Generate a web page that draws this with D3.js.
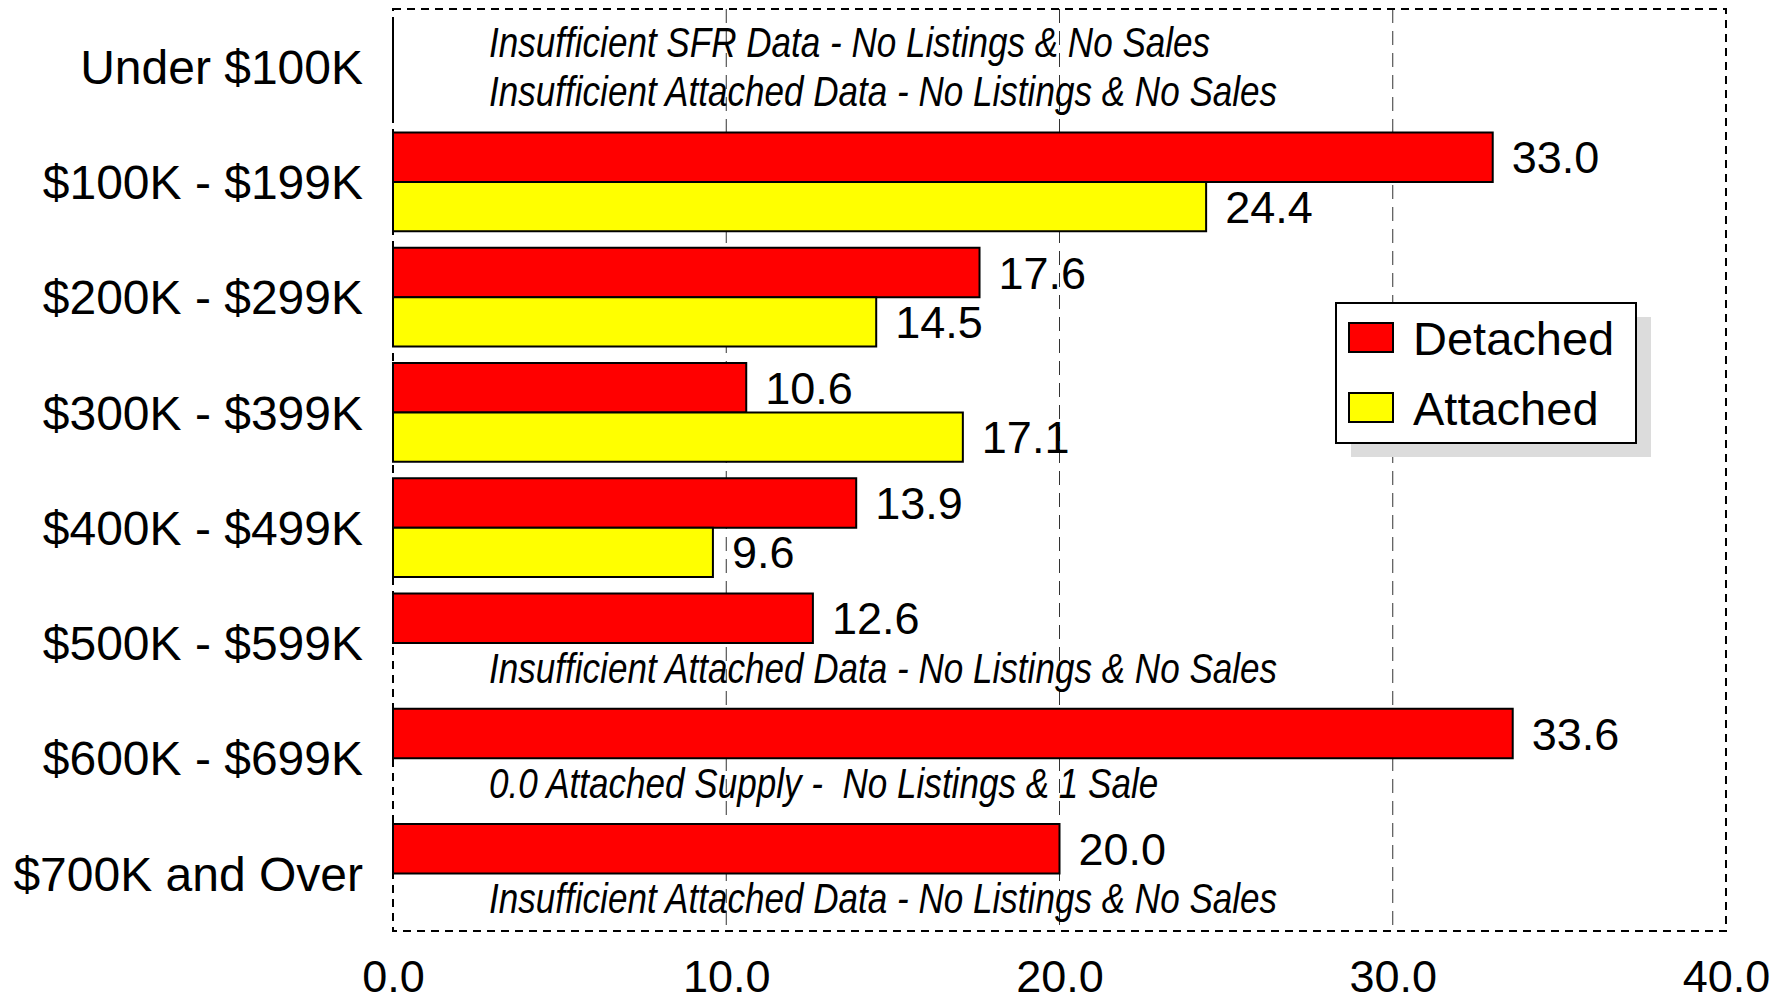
<!DOCTYPE html>
<html>
<head>
<meta charset="utf-8">
<script src="https://cdn.jsdelivr.net/npm/d3@7"></script>
<style>
	body { margin: 0; background: #fff; }
	svg { display: block; }
	.cat { font-family: "Liberation Sans", Arial, sans-serif; font-size: 48px; }
	.val { font-family: "Liberation Sans", Arial, sans-serif; font-size: 45px; }
	.tick-label { font-family: "Liberation Sans", Arial, sans-serif; font-size: 45px; }
	.note { font-family: "Liberation Sans Narrow", "Arial Narrow", "Liberation Sans", sans-serif; font-style: italic; font-size: 42px; }
	.legend-text { font-family: "Liberation Sans", Arial, sans-serif; font-size: 47px; }
</style>
</head>
<body>
<svg id="chart" width="1791" height="1002"></svg>
<script>
// price ranges, top to bottom
const categories = ["Under $100K", "$100K - $199K", "$200K - $299K", "$300K - $399K",
	"$400K - $499K", "$500K - $599K", "$600K - $699K", "$700K and Over"];
const seriesNames = ["Detached", "Attached"];
const seriesColors = ["#ff0000", "#ffff00"];

// months of supply; null = no bar drawn
const detached = [0, 33.0, 17.6, 10.6, 13.9, 12.6, 33.6, 20.0];
const attached = [0, 24.4, 14.5, 17.1, 9.6, null, null, null];

const xTicks = [0, 10, 20, 30, 40];

// notes shown in place of missing bars
const notes = [
	{ cat: "Under $100K", series: "Detached", text: "Insufficient SFR Data - No Listings & No Sales" },
	{ cat: "Under $100K", series: "Attached", text: "Insufficient Attached Data - No Listings & No Sales" },
	{ cat: "$500K - $599K", series: "Attached", text: "Insufficient Attached Data - No Listings & No Sales" },
	{ cat: "$600K - $699K", series: "Attached", text: "0.0 Attached Supply -  No Listings & 1 Sale" },
	{ cat: "$700K and Over", series: "Attached", text: "Insufficient Attached Data - No Listings & No Sales" }
];

const margin = { top: 9, right: 65, bottom: 71, left: 393 };
const width = 1791, height = 1002;
const noteSqueeze = 0.835; // no narrow font installed, so squeeze the notes

const svg = d3.select("#chart");

const x = d3.scaleLinear()
	.domain([0, 40])
	.range([margin.left, width - margin.right]);

const y0 = d3.scaleBand()
	.domain(categories)
	.range([margin.top, height - margin.bottom]);

const pad = 8.3;
const y1 = d3.scaleBand()
	.domain(seriesNames)
	.range([pad, y0.bandwidth() - pad]);

const rows = categories.map((c, i) => ({ cat: c, values: [detached[i], attached[i]] }));

// grid
svg.append("g")
	.selectAll("line")
	.data(xTicks.slice(1, -1))
	.join("line")
	.attr("x1", d => x(d)).attr("x2", d => x(d))
	.attr("y1", margin.top).attr("y2", height - margin.bottom)
	.attr("stroke", "#333")
	.attr("stroke-width", 1)
	.attr("stroke-dasharray", "14,8");

// plot border
svg.append("rect")
	.attr("x", margin.left).attr("y", margin.top)
	.attr("width", x(40) - x(0))
	.attr("height", height - margin.bottom - margin.top)
	.attr("fill", "none")
	.attr("stroke", "#000")
	.attr("stroke-width", 2)
	.attr("stroke-dasharray", "8,6");

// bars (paths, so a zero value still shows its outline)
const groups = svg.append("g")
	.selectAll("g")
	.data(rows)
	.join("g")
	.attr("transform", d => `translate(0,${y0(d.cat)})`);

groups.selectAll("path")
	.data(d => d.values.map((v, j) => ({ key: seriesNames[j], value: v, color: seriesColors[j] }))
		.filter(e => e.value !== null))
	.join("path")
	.attr("d", d => {
		const x0 = x(0), x1 = x(d.value), top = y1(d.key), h = y1.bandwidth();
		return `M${x0},${top}H${x1}V${top + h}H${x0}Z`;
	})
	.attr("fill", d => d.color)
	.attr("stroke", "#000")
	.attr("stroke-width", 2);

groups.selectAll("text")
	.data(d => d.values.map((v, j) => ({ key: seriesNames[j], value: v }))
		.filter(e => e.value !== null && e.value > 0))
	.join("text")
	.attr("class", "val")
	.attr("x", d => x(d.value) + 19)
	.attr("y", d => y1(d.key) + y1.bandwidth() / 2)
	.attr("dy", "0.36em")
	.text(d => d3.format(".1f")(d.value));

// notes
svg.append("g")
	.selectAll("text")
	.data(notes)
	.join("text")
	.attr("class", "note")
	.attr("transform", d => `translate(${x(0) + 96},${y0(d.cat) + y1(d.series) + y1.bandwidth() / 2}) scale(${noteSqueeze},1)`)
	.attr("dy", "0.36em")
	.attr("xml:space", "preserve")
	.style("white-space", "pre")
	.text(d => d.text);

// category labels
svg.append("g")
	.selectAll("text")
	.data(categories)
	.join("text")
	.attr("class", "cat")
	.attr("x", margin.left - 30)
	.attr("y", d => y0(d) + y0.bandwidth() / 2)
	.attr("dy", "0.36em")
	.attr("text-anchor", "end")
	.text(d => d);

// x axis labels
const xAxis = svg.append("g")
	.attr("transform", `translate(0,${height - margin.bottom})`)
	.call(d3.axisBottom(x).tickValues(xTicks).tickFormat(d3.format(".1f")).tickSize(0).tickPadding(29));
xAxis.select(".domain").remove();
xAxis.attr("font-size", null).attr("font-family", null);
xAxis.selectAll("text")
	.attr("class", "tick-label")
	.attr("fill", "#000");

// legend
const legend = svg.append("g").attr("transform", "translate(1336,303)");
legend.append("rect")
	.attr("x", 15).attr("y", 14)
	.attr("width", 300).attr("height", 140)
	.attr("fill", "#dcdcdc");
legend.append("rect")
	.attr("width", 300).attr("height", 140)
	.attr("fill", "#fff")
	.attr("stroke", "#000")
	.attr("stroke-width", 2);
const item = legend.selectAll("g.item")
	.data(seriesNames)
	.join("g")
	.attr("class", "item")
	.attr("transform", (d, i) => `translate(13,${20 + i * 70})`);
item.append("rect")
	.attr("width", 44).attr("height", 29)
	.attr("fill", (d, i) => seriesColors[i])
	.attr("stroke", "#000")
	.attr("stroke-width", 2);
item.append("text")
	.attr("class", "legend-text")
	.attr("x", 64)
	.attr("y", 15)
	.attr("dy", "0.36em")
	.text(d => d);
</script>
</body>
</html>
